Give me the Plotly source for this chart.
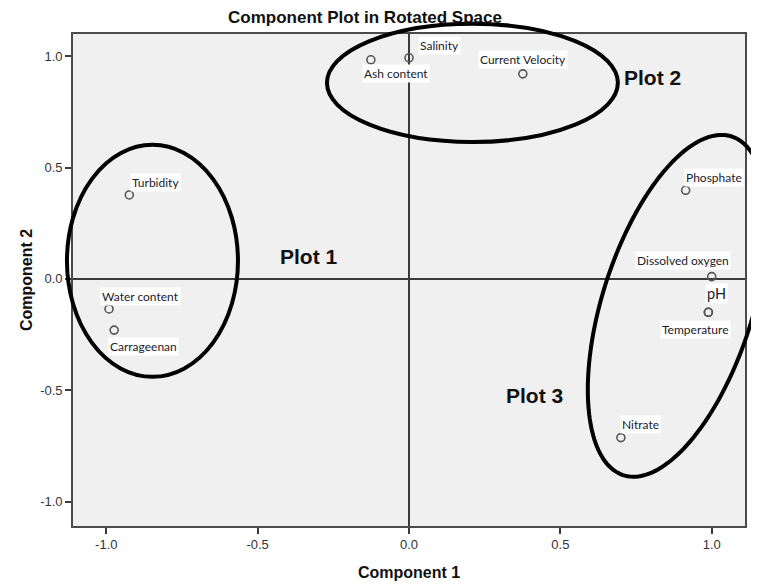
import numpy as np
import plotly.graph_objects as go

# ---- data ----
names = ["Salinity", "Ash content", "Current Velocity", "Turbidity",
         "Water content", "Carrageenan", "Phosphate", "Dissolved oxygen",
         "pH", "Temperature", "Nitrate"]
component1 = [0.000, -0.126, 0.376, -0.924, -0.991, -0.974, 0.914, 1.000, 0.989, 0.989, 0.700]
component2 = [0.993, 0.984, 0.921, 0.377, -0.135, -0.230, 0.398, 0.010, -0.150, -0.150, -0.713]

tick_vals = [-1.0, -0.5, 0.0, 0.5, 1.0]
tick_text = ["-1.0", "-0.5", "0.0", "0.5", "1.0"]

group_labels = ["Plot 1", "Plot 2", "Plot 3"]

# ---- styling / layout parameters ----
XR = [-1.11, 1.11]
YR = [-1.11, 1.10]

# the page body has an 8px margin, so the figure is made 8px smaller
W_FIG, H_FIG = 751, 576
OFF = 8

# label offsets in pixels (xshift, yshift, font size)
label_style = {
    "Salinity": (30, 12, 12),
    "Ash content": (25, -14, 12),
    "Current Velocity": (0, 14, 12),
    "Turbidity": (26, 12, 12),
    "Water content": (31, 12, 12),
    "Carrageenan": (29, -16, 12),
    "Phosphate": (28, 13, 12),
    "Dissolved oxygen": (-29, 16, 12),
    "pH": (8, 19, 14.5),
    "Temperature": (-13, -17, 12),
    "Nitrate": (20, 13, 12),
}
group_pos = [(-0.333, 0.099), (0.805, 0.906), (0.414, -0.525)]


def px(x):
    return (x - XR[0]) / (XR[1] - XR[0])


def py(y):
    return (y - YR[0]) / (YR[1] - YR[0])


fig = go.Figure()

# markers (Temperature shares the pH position)
fig.add_trace(go.Scatter(
    x=component1, y=component2, mode="markers",
    marker=dict(symbol="circle-open", size=8, color="#555555",
                line=dict(width=1.6, color="#555555")),
    text=names, hoverinfo="text", showlegend=False, cliponaxis=False,
))

annotations = []
for n, xv, yv in zip(names, component1, component2):
    dx, dy, fs = label_style[n]
    annotations.append(dict(
        x=xv, y=yv, xref="x", yref="y", text=n, showarrow=False,
        xshift=dx, yshift=dy, bgcolor="white", borderpad=1,
        font=dict(family="Lato, Open Sans, sans-serif", size=fs, color="#1a1a2a"),
    ))

for lbl, (gx, gy) in zip(group_labels, group_pos):
    annotations.append(dict(
        x=gx, y=gy, xref="x", yref="y", text="<b>%s</b>" % lbl, showarrow=False,
        font=dict(family="Liberation Sans, Arial, sans-serif", size=21, color="#111111"),
    ))

shapes = []
# ellipse 1 and ellipse 2 (axis-aligned), given in data units, drawn in paper coords
for (x0, x1, y0, y1) in [(-1.130, -0.565, -0.440, 0.602), (-0.271, 0.690, 0.615, 1.146)]:
    shapes.append(dict(type="circle", xref="paper", yref="paper",
                       x0=px(x0), x1=px(x1), y0=py(y0), y1=py(y1),
                       line=dict(color="black", width=4), layer="above"))

# ellipse 3 (tilted)
cx, cy, W, H, K = 0.887, -0.121, 0.2963, 0.7677, 0.1116
t = np.linspace(0, 2 * np.pi, 181)
ex = cx + W * np.cos(t)
ey = cy + (K / W) * np.cos(t) + np.sqrt(H ** 2 - (K / W) ** 2) * np.sin(t)
path = "M " + " L ".join("%.5f,%.5f" % (px(a), py(b)) for a, b in zip(ex, ey)) + " Z"
shapes.append(dict(type="path", xref="paper", yref="paper", path=path,
                   line=dict(color="black", width=4), layer="above"))

axis_common = dict(
    tickvals=tick_vals, ticktext=tick_text, showgrid=False, automargin=False,
    zeroline=True, zerolinecolor="#3a3a3a", zerolinewidth=1.6,
    showline=True, mirror=True, linecolor="#4a4a4a", linewidth=1.6,
    ticks="outside", ticklen=6, tickwidth=1.6, tickcolor="#3a3a3a",
    tickfont=dict(family="Liberation Sans, Arial, sans-serif", size=13, color="#333333"),
)

fig.update_layout(
    width=W_FIG, height=H_FIG,
    margin=dict(l=73 - OFF, r=14, t=34 - OFF, b=58, autoexpand=False),
    paper_bgcolor="white", plot_bgcolor="#f0f0f0",
    title=dict(text="<b>Component Plot in Rotated Space</b>",
               x=(365 - OFF) / W_FIG, xref="container", xanchor="center",
               y=1 - (17 - OFF) / H_FIG, yref="container", yanchor="middle",
               font=dict(family="Liberation Sans, Arial, sans-serif", size=17, color="#111111")),
    xaxis=dict(range=XR, title=dict(text="<b>Component 1</b>", standoff=15,
                                    font=dict(family="Liberation Sans, Arial, sans-serif", size=16, color="#111111")),
               **axis_common),
    yaxis=dict(range=YR, title=dict(text="<b>Component 2</b>", standoff=4,
                                    font=dict(family="Liberation Sans, Arial, sans-serif", size=16, color="#111111")),
               **axis_common),
    annotations=annotations,
    shapes=shapes,
    showlegend=False,
)

fig.write_html("out.html")
